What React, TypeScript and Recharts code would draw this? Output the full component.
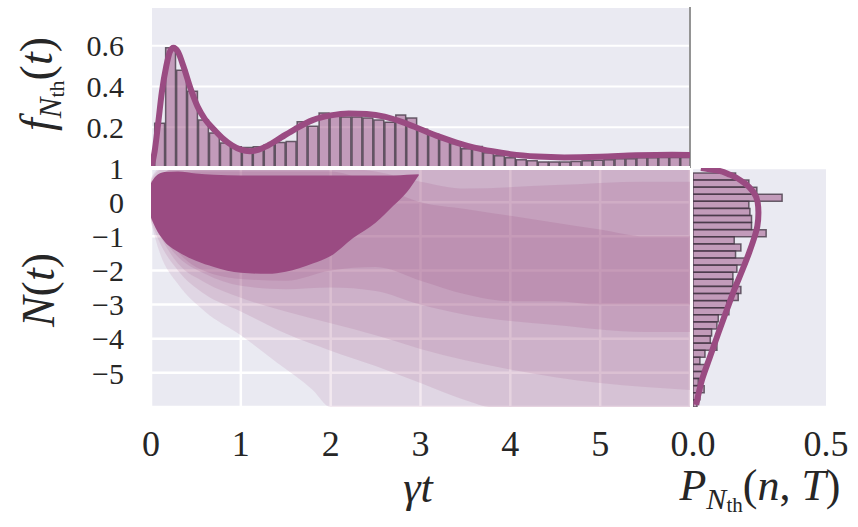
import {
  ComposedChart,
  Bar,
  Line,
  Area,
  XAxis,
  YAxis,
  CartesianGrid,
  ReferenceLine,
} from 'recharts'

// ---- top panel: first-passage density f_Nth(t) ----
const TOP_BIN_T = [
  0.091, 0.213, 0.335, 0.457, 0.579, 0.701, 0.823, 0.945, 1.067, 1.189,
  1.311, 1.433, 1.555, 1.677, 1.799, 1.921, 2.043, 2.165, 2.287, 2.409,
  2.531, 2.653, 2.775, 2.897, 3.019, 3.141, 3.263, 3.385, 3.507, 3.629,
  3.751, 3.873, 3.995, 4.117, 4.239, 4.361, 4.483, 4.605, 4.727, 4.849,
  4.971, 5.093, 5.215, 5.337, 5.459, 5.581, 5.703, 5.825, 5.947,
]
const TOP_BIN_F = [
  0.22, 0.59, 0.48, 0.377, 0.235, 0.172, 0.123, 0.104, 0.1, 0.104,
  0.114, 0.125, 0.13, 0.227, 0.205, 0.27, 0.255, 0.25, 0.25, 0.245,
  0.235, 0.225, 0.26, 0.245, 0.19, 0.165, 0.14, 0.12, 0.095, 0.105,
  0.075, 0.06, 0.05, 0.04, 0.035, 0.03, 0.03, 0.03, 0.032, 0.035,
  0.038, 0.04, 0.045, 0.045, 0.05, 0.05, 0.052, 0.052, 0.052,
]
const TOP_CURVE_T = [
  0, 0.04, 0.08, 0.12, 0.17, 0.21, 0.25, 0.3, 0.36, 0.44, 0.52, 0.6, 0.71,
  0.8, 0.9, 1.0, 1.1, 1.2, 1.3, 1.45, 1.6, 1.8, 2.0, 2.2, 2.4, 2.6, 2.8, 3.0,
  3.2, 3.4, 3.6, 3.8, 4.0, 4.3, 4.6, 5.0, 5.4, 5.8, 6.0,
]
const TOP_CURVE_F = [
  0, 0.08, 0.22, 0.37, 0.5, 0.57, 0.59, 0.57, 0.5, 0.39, 0.3, 0.24, 0.185,
  0.145, 0.112, 0.09, 0.082, 0.09, 0.11, 0.15, 0.19, 0.235, 0.258, 0.268,
  0.265, 0.252, 0.225, 0.19, 0.155, 0.125, 0.1, 0.082, 0.068, 0.056, 0.052,
  0.055, 0.062, 0.065, 0.064,
]
const TOP_GRID_T = [
  0, 0.2, 0.4, 0.6, 0.8, 1, 1.2, 1.4, 1.6, 1.8, 2, 2.2, 2.4, 2.6, 2.8, 3, 3.2,
  3.4, 3.6, 3.8, 4, 4.2, 4.4, 4.6, 4.8, 5, 5.2, 5.4, 5.6, 5.8, 6,
]
const TOP_Y_TICKS = [0.2, 0.4, 0.6]

// ---- main panel: trajectory cloud N(t), drawn as nested density contours ----
const L1_T = [0, 0.1, 0.3, 0.6, 1.0, 1.4, 1.8, 2.0, 6]
const L1_LO = [-0.6, -1.5, -2.4, -3.2, -3.9, -4.7, -5.5, -6, -6]
const L1_HI = [0.7, 1, 1, 1, 1, 1, 1, 1, 1]

const L2_T = [0, 0.1, 0.3, 0.6, 1.0, 1.5, 2.0, 2.5, 3.0, 3.5, 3.8, 6]
const L2_LO = [-0.55, -1.2, -2.0, -2.7, -3.2, -3.85, -4.35, -4.8, -5.3, -5.8, -6, -6]
const L2_HI = [0.65, 0.95, 1, 1, 1, 1, 1, 1, 1, 1, 1, 1]

const L3_T = [0, 0.3, 0.6, 1.0, 1.5, 2.0, 2.5, 3.0, 4.0, 5.0, 6]
const L3_LO = [-0.5, -1.8, -2.35, -2.8, -3.2, -3.55, -3.9, -4.3, -4.9, -5.3, -5.5]
const L3_HI = [0.6, 1, 1, 1, 1, 1, 1, 1, 1, 1, 1]

const L4_T = [0, 0.3, 0.6, 1.0, 1.5, 2.0, 2.5, 3.0, 3.5, 4.5, 5.5, 6]
const L4_LO = [-0.5, -1.6, -2.1, -2.45, -2.55, -2.5, -2.6, -3.0, -3.3, -3.6, -3.8, -3.8]
const L4_HI = [0.6, 1, 1, 1, 1, 1, 0.9, 0.6, 0.4, 0.5, 0.6, 0.6]

const L5_T = [0, 0.5, 1.0, 1.5, 2.0, 2.5, 3.0, 3.5, 4.0, 4.5, 5.0, 5.5, 6]
const L5_LO = [-0.45, -1.9, -2.25, -2.3, -2.0, -1.9, -2.3, -2.7, -2.9, -2.9, -3.0, -3.0, -3.0]
const L5_HI = [0.55, 0.9, 0.9, 0.9, 0.9, 0.5, 0.0, -0.2, -0.4, -0.6, -0.8, -1.0, -1.0]

const CORE_T = [0, 0.05, 0.15, 0.3, 0.5, 0.7, 1.0, 1.3, 1.5, 1.8, 2.0, 2.25, 2.5, 2.7, 2.85, 2.98]
const CORE_LO = [-0.45, -0.75, -1.15, -1.45, -1.72, -1.9, -2.07, -2.1, -2.04, -1.8, -1.58, -1.05, -0.6, -0.1, 0.3, 0.78]
const CORE_HI = [0.55, 0.75, 0.88, 0.9, 0.84, 0.8, 0.78, 0.78, 0.78, 0.78, 0.78, 0.78, 0.78, 0.78, 0.8, 0.82]

const MAIN_X_TICKS = [0, 1, 2, 3, 4, 5]
const MAIN_Y_TICKS = [1, 0, -1, -2, -3, -4, -5]

// ---- right panel: P_Nth(n, T) ----
const RIGHT_BIN_N = [
  0.75, 0.543, 0.335, 0.127, -0.08, -0.288, -0.496, -0.703, -0.911, -1.119,
  -1.326, -1.534, -1.742, -1.949, -2.157, -2.365, -2.572, -2.78, -2.988,
  -3.195, -3.403, -3.611, -3.818, -4.026, -4.234, -4.441, -4.649, -4.857,
  -5.064, -5.272, -5.48, -5.687, -5.895,
]
const RIGHT_BIN_P = [
  0.16, 0.21, 0.24, 0.335, 0.21, 0.214, 0.22, 0.22, 0.275, 0.155, 0.18,
  0.16, 0.2, 0.165, 0.15, 0.15, 0.18, 0.17, 0.127, 0.135, 0.095, 0.09,
  0.07, 0.065, 0.09, 0.045, 0.026, 0.048, 0.033, 0.02, 0.042, 0.026, 0.015,
]
const RIGHT_CURVE_N = [1.0, 0.93, 0.8, 0.55, 0.3, 0, -0.3, -0.7, -1.0, -1.5, -2.0, -2.57, -3.16, -3.84, -4.53, -5.2, -5.94]
const RIGHT_CURVE_P = [0.03, 0.09, 0.14, 0.195, 0.227, 0.243, 0.246, 0.242, 0.232, 0.21, 0.185, 0.155, 0.127, 0.095, 0.064, 0.034, 0.012]
const RIGHT_X_TICKS = [0, 0.5]
const RIGHT_Y_TICKS = [0, -1, -2, -3, -4, -5]

const PURPLE = '#9a4b82'
const BG = '#eaeaf2'
const EDGE = '#3f3340'
const FONT = '"Liberation Serif", "DejaVu Serif", serif'
const TEXT = '#262626'

const topHist = TOP_BIN_T.map((t, i) => ({ t, f: TOP_BIN_F[i] }))
const topCurve = TOP_CURVE_T.map((t, i) => ({ t, f: TOP_CURVE_F[i] }))
const band = (ts: number[], lo: number[], hi: number[]) =>
  ts.map((t, i) => ({ t, lo: lo[i], hi: hi[i] }))
const layers = [
  { data: band(L1_T, L1_LO, L1_HI), op: 0.12 },
  { data: band(L2_T, L2_LO, L2_HI), op: 0.14 },
  { data: band(L3_T, L3_LO, L3_HI), op: 0.14 },
  { data: band(L4_T, L4_LO, L4_HI), op: 0.16 },
  { data: band(L5_T, L5_LO, L5_HI), op: 0.18 },
  { data: band(CORE_T, CORE_LO, CORE_HI), op: 1 },
]
const rightHist = RIGHT_BIN_N.map((n, i) => ({ n, p: RIGHT_BIN_P[i] }))
const rightCurve = RIGHT_CURVE_N.map((n, i) => ({ n, p: RIGHT_CURVE_P[i] }))

// x ticks keep the reference size; the left ticks sit 34px apart, so they are kept a bit smaller
const xTickStyle = { fontSize: 36, fontFamily: FONT, fill: TEXT }
const yTickStyle = { fontSize: 30, fontFamily: FONT, fill: TEXT }
const fmtMinus = (v: number) => (v < 0 ? `\u2212${Math.abs(v)}` : String(v))
const range = (d: { lo: number; hi: number }) => [d.lo, d.hi]

const layer: React.CSSProperties = { position: 'absolute', left: 0, top: 0 }

const TOP_MARGIN = { top: 7, right: 168, bottom: 359, left: 0 }
const RIGHT_MARGIN = { top: 168, right: 32, bottom: 60, left: 693 }

export default function App() {
  return (
    <div style={{ position: 'absolute', left: 0, top: 0, width: 858, height: 527, background: '#fff' }}>
      {/* top histogram */}
      <div style={layer}>
        <ComposedChart width={858} height={527} data={topHist} margin={TOP_MARGIN}>
          <CartesianGrid fill={BG} stroke="#fff" strokeWidth={2} strokeOpacity={1} />
          <XAxis
            dataKey="t"
            type="number"
            domain={[0, 6]}
            ticks={TOP_GRID_T}
            interval={0}
            height={0}
            tick={false}
            axisLine={false}
            tickLine={false}
            allowDataOverflow
          />
          <YAxis
            type="number"
            domain={[0, 0.79]}
            ticks={TOP_Y_TICKS}
            interval={0}
            width={151}
            axisLine={false}
            tickLine={false}
            tickMargin={21}
            tick={yTickStyle}
            tickFormatter={(v: number) => v.toFixed(1)}
            allowDataOverflow
          />
          <Bar
            dataKey="f"
            barSize={11}
            fill={PURPLE}
            fillOpacity={0.5}
            stroke={EDGE}
            strokeOpacity={0.75}
            strokeWidth={1.5}
            isAnimationActive={false}
          />
          <ReferenceLine x={6} stroke="#707070" strokeWidth={1.5} />
        </ComposedChart>
      </div>
      {/* top density curve */}
      <div style={layer}>
        <ComposedChart width={858} height={527} data={topCurve} margin={{ ...TOP_MARGIN, left: 151 }}>
          <XAxis dataKey="t" type="number" domain={[0, 6]} hide allowDataOverflow />
          <YAxis type="number" domain={[0, 0.79]} hide allowDataOverflow />
          <Line
            dataKey="f"
            type="monotone"
            stroke={PURPLE}
            strokeWidth={6}
            dot={false}
            activeDot={false}
            isAnimationActive={false}
          />
        </ComposedChart>
      </div>

      {/* main trajectory panel */}
      <div style={layer}>
        <ComposedChart width={858} height={527} margin={{ top: 168, right: 168, bottom: 60, left: 0 }}>
          <CartesianGrid fill={BG} stroke="#fff" strokeWidth={2.5} strokeOpacity={1} />
          <XAxis
            dataKey="t"
            type="number"
            domain={[0, 6]}
            ticks={MAIN_X_TICKS}
            interval={0}
            height={60}
            axisLine={false}
            tickLine={false}
            tickMargin={17}
            tick={xTickStyle}
            allowDataOverflow
          />
          <YAxis
            type="number"
            domain={[-6, 1]}
            ticks={MAIN_Y_TICKS}
            interval={0}
            width={151}
            axisLine={false}
            tickLine={false}
            tickMargin={21}
            tick={yTickStyle}
            tickFormatter={fmtMinus}
            allowDataOverflow
          />
          {layers.map((l, i) => (
            <Area
              key={i}
              data={l.data}
              dataKey={range}
              type="monotone"
              stroke="none"
              fill={PURPLE}
              fillOpacity={l.op}
              isAnimationActive={false}
            />
          ))}
          <ReferenceLine y={1} stroke="#fff" strokeWidth={4} />
        </ComposedChart>
      </div>

      {/* right histogram */}
      <div style={layer}>
        <ComposedChart width={858} height={527} layout="vertical" data={rightHist} margin={RIGHT_MARGIN}>
          <CartesianGrid fill={BG} stroke="#fff" strokeWidth={2.5} strokeOpacity={1} vertical={false} />
          <XAxis
            type="number"
            domain={[0, 0.5]}
            ticks={RIGHT_X_TICKS}
            interval={0}
            height={60}
            axisLine={false}
            tickLine={false}
            tickMargin={17}
            tick={xTickStyle}
            tickFormatter={(v: number) => v.toFixed(1)}
            allowDataOverflow
          />
          <YAxis
            dataKey="n"
            type="number"
            domain={[-6, 1]}
            ticks={RIGHT_Y_TICKS}
            interval={0}
            reversed
            width={0}
            tick={false}
            axisLine={false}
            tickLine={false}
            allowDataOverflow
          />
          <Bar
            dataKey="p"
            barSize={7}
            fill={PURPLE}
            fillOpacity={0.5}
            stroke={EDGE}
            strokeOpacity={0.75}
            strokeWidth={1.5}
            isAnimationActive={false}
          />
        </ComposedChart>
      </div>
      {/* right density curve */}
      <div style={layer}>
        <ComposedChart
          width={858}
          height={527}
          layout="vertical"
          data={rightCurve}
          margin={{ ...RIGHT_MARGIN, bottom: 120 }}
        >
          <XAxis type="number" domain={[0, 0.5]} hide allowDataOverflow />
          <YAxis dataKey="n" type="number" domain={[-6, 1]} reversed hide allowDataOverflow />
          <Line
            dataKey="p"
            type="monotone"
            stroke={PURPLE}
            strokeWidth={6}
            dot={false}
            activeDot={false}
            isAnimationActive={false}
          />
        </ComposedChart>
      </div>

      {/* axis titles */}
      <svg width={858} height={527} style={{ ...layer, pointerEvents: 'none' }} fontFamily={FONT} fill={TEXT}>
        <text x={418} y={502} textAnchor="middle" fontSize={44} fontStyle="italic">
          γt
        </text>
        <text x={760} y={500} textAnchor="middle" fontSize={44}>
          <tspan fontStyle="italic">P</tspan>
          <tspan fontStyle="italic" fontSize={30} dy={9}>N</tspan>
          <tspan fontSize={21} dy={3}>th</tspan>
          <tspan dy={-12}>(</tspan>
          <tspan fontStyle="italic">n</tspan>
          <tspan>, </tspan>
          <tspan fontStyle="italic">T</tspan>
          <tspan>)</tspan>
        </text>
        <text transform="translate(54,290) rotate(-90)" textAnchor="middle" fontSize={46}>
          <tspan fontStyle="italic">N</tspan>
          <tspan>(</tspan>
          <tspan fontStyle="italic">t</tspan>
          <tspan>)</tspan>
        </text>
        <text transform="translate(52,84) rotate(-90)" textAnchor="middle" fontSize={46}>
          <tspan fontStyle="italic">f</tspan>
          <tspan fontStyle="italic" fontSize={31} dy={9}>N</tspan>
          <tspan fontSize={22} dy={3}>th</tspan>
          <tspan dy={-12}>(</tspan>
          <tspan fontStyle="italic">t</tspan>
          <tspan>)</tspan>
        </text>
      </svg>
    </div>
  )
}
